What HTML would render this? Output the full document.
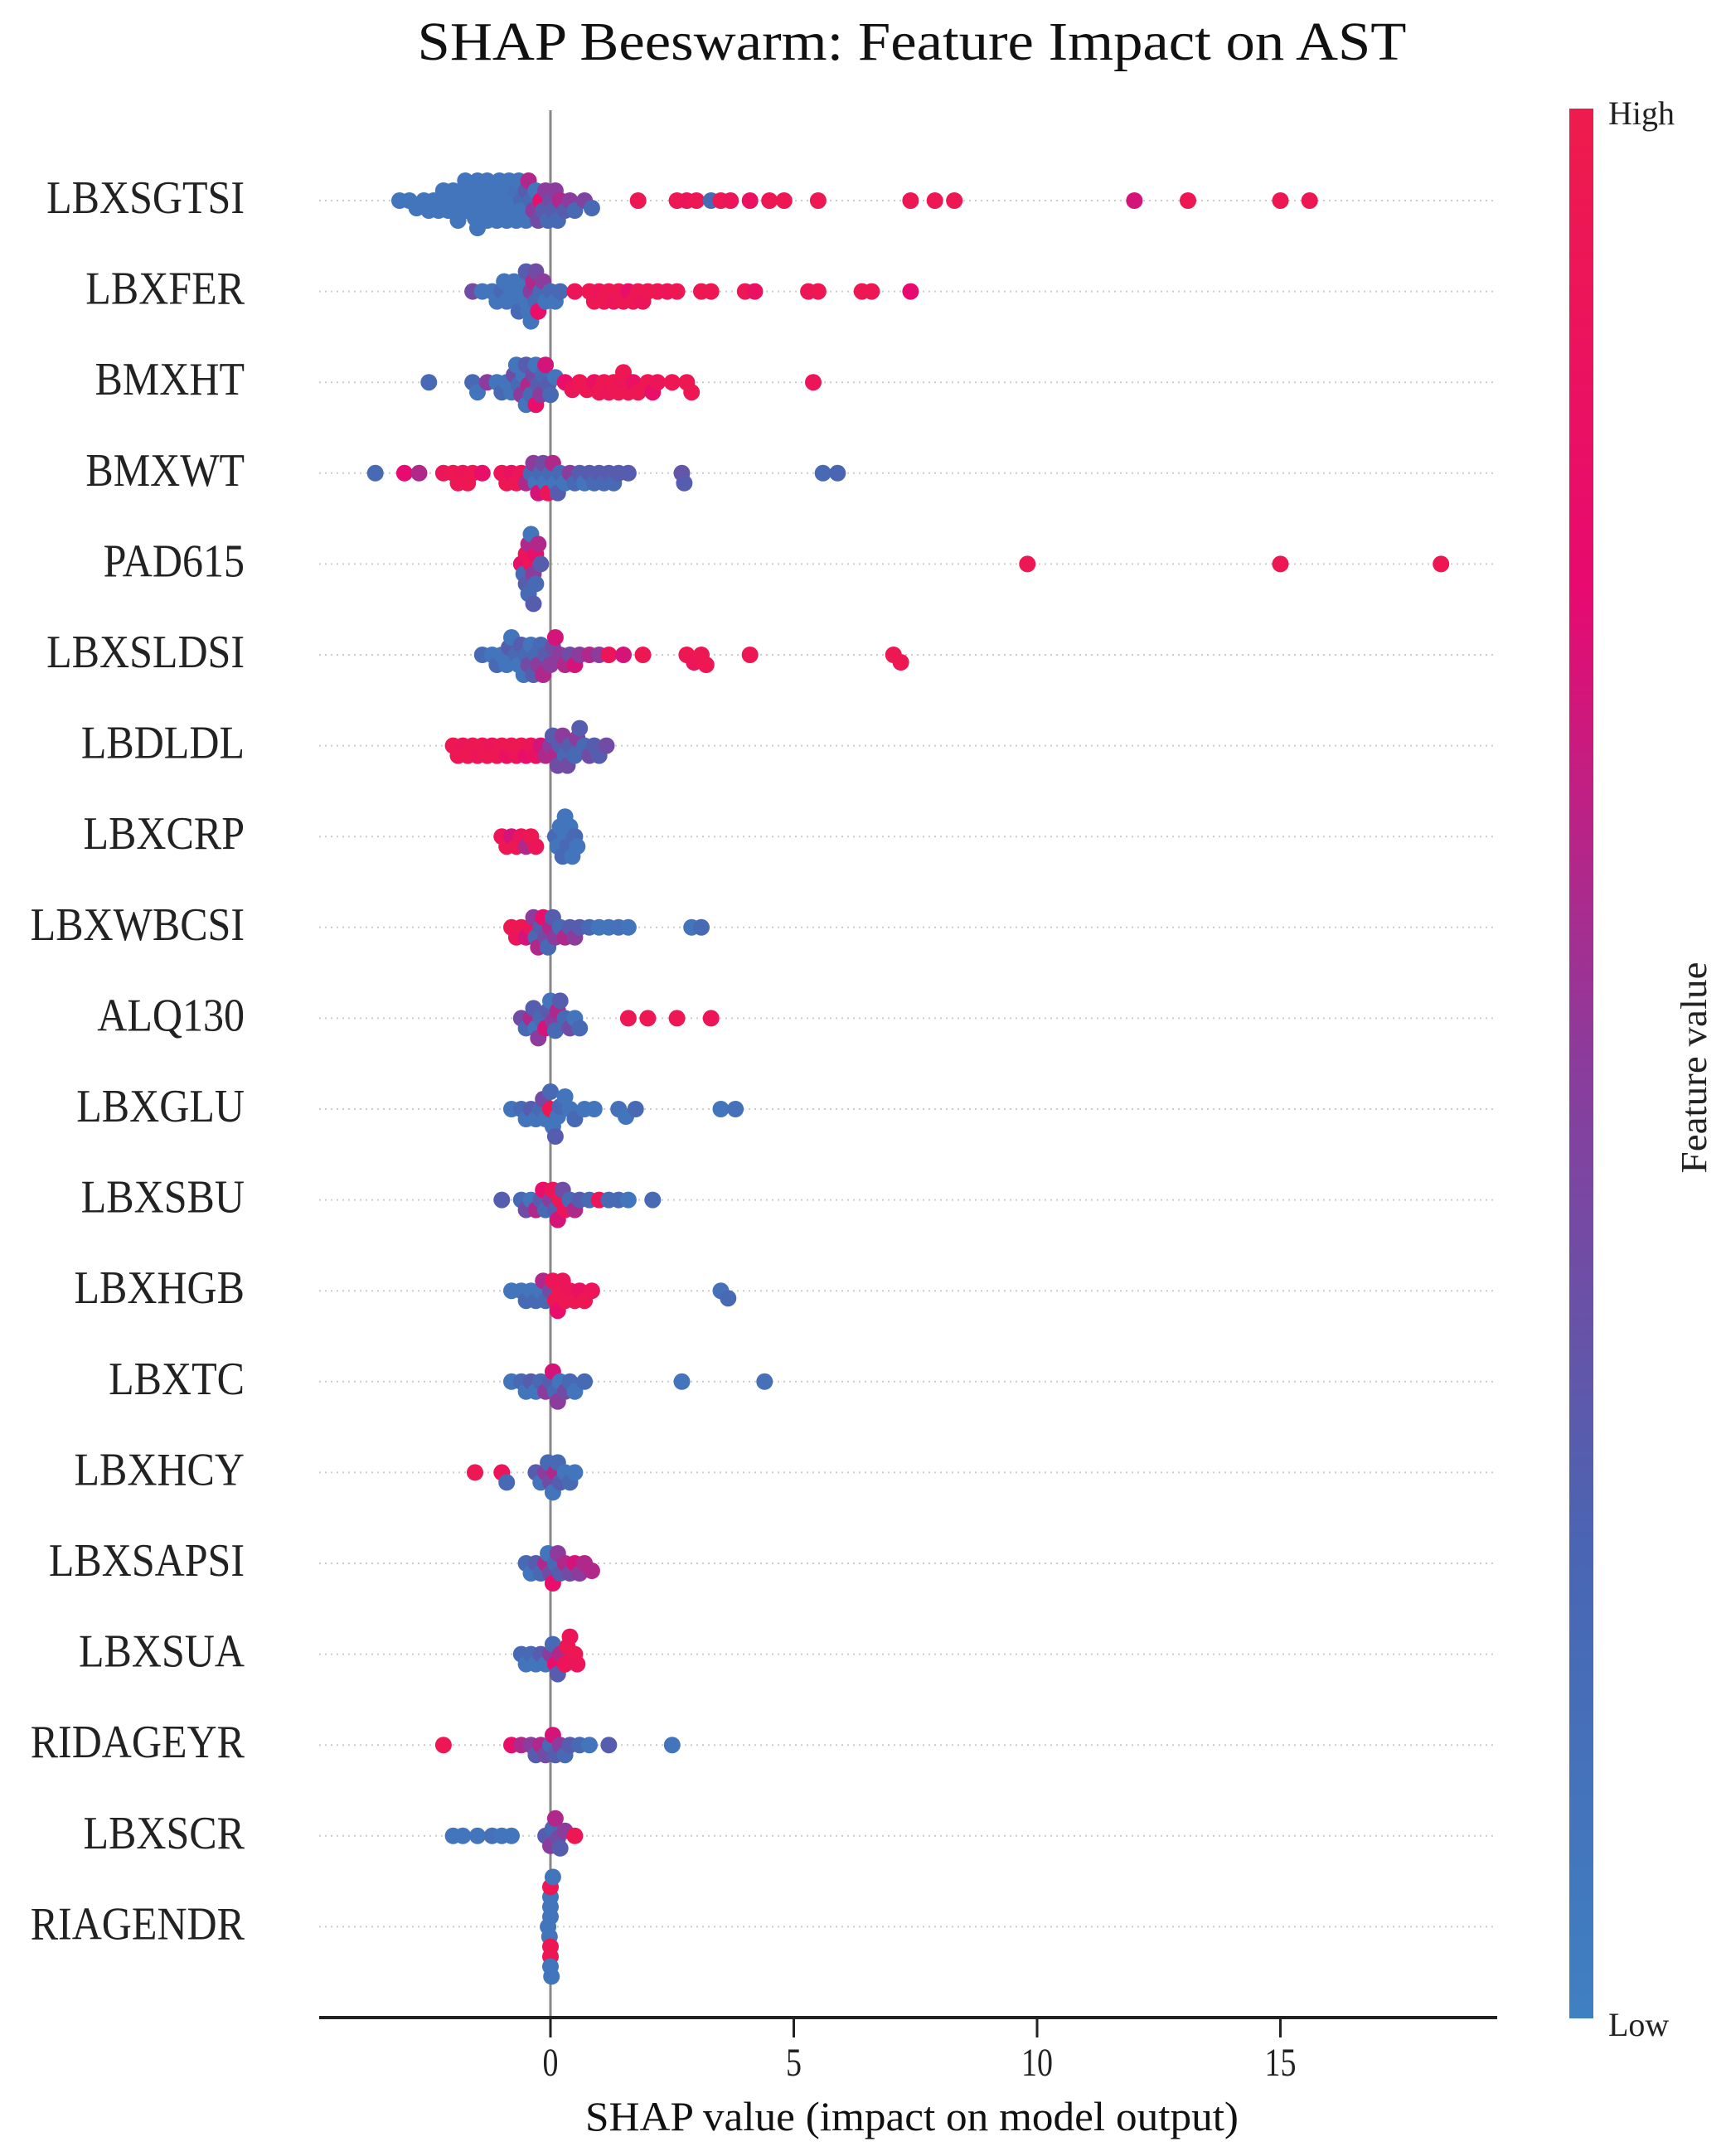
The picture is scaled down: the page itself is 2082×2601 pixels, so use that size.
<!DOCTYPE html>
<html><head><meta charset="utf-8"><style>
html,body{margin:0;padding:0;background:#fff}
svg{display:block;font-family:"Liberation Serif",serif}
</style></head><body>
<svg id="chart" width="2082" height="2601" viewBox="0 0 2082 2601">
<defs><linearGradient id="cbar" x1="0" y1="1" x2="0" y2="0">
<stop offset="0" stop-color="#3f80c2"/><stop offset="0.25" stop-color="#4a65b2"/><stop offset="0.5" stop-color="#8b3c9c"/><stop offset="0.75" stop-color="#e80a70"/><stop offset="1" stop-color="#ee1c4c"/></linearGradient></defs>
<text x="1100" y="72" text-anchor="middle" font-size="66" textLength="1193" lengthAdjust="spacingAndGlyphs" fill="#111">SHAP Beeswarm: Feature Impact on AST</text>
<g id="grid"></g><g id="labels"></g>
<line x1="664" y1="133" x2="664" y2="2434" stroke="#888" stroke-width="3"/>
<g id="dots"></g>
<line x1="385" y1="2434" x2="1806" y2="2434" stroke="#222" stroke-width="4"/>
<g id="ticks"></g>
<text x="1100" y="2570" text-anchor="middle" font-size="50" textLength="788" lengthAdjust="spacingAndGlyphs" fill="#111">SHAP value (impact on model output)</text>
<rect x="1893" y="131" width="29" height="2304" fill="url(#cbar)"/>
<text x="1940" y="150" font-size="40" fill="#222">High</text>
<text x="1940" y="2456" font-size="40" fill="#222">Low</text>
<text transform="translate(2058,1288) rotate(-90)" text-anchor="middle" font-size="44" textLength="255" lengthAdjust="spacingAndGlyphs" fill="#222">Feature value</text>
</svg>
<script>
const features = ["LBXSGTSI","LBXFER","BMXHT","BMXWT","PAD615","LBXSLDSI","LBDLDL","LBXCRP","LBXWBCSI","ALQ130","LBXGLU","LBXSBU","LBXHGB","LBXTC","LBXHCY","LBXSAPSI","LBXSUA","RIDAGEYR","LBXSCR","RIAGENDR"];
const xTicks = [0,5,10,15];
// [shap value, normalized feature value]
const s0 = [[-3.1,.1],[-2.9,.1],[-2.75,.1],[-2.6,.1],[-2.5,.1],[-2.4,.1],[-2.3,.1],[-2.2,.1],[-2.2,.1],[-2.1,.1],[-2.0,.1],[-2.0,.1],[-1.9,.1],[-1.9,.1],[-1.8,.1],[-1.8,.1],[-1.75,.1],[-1.7,.1],[-1.6,.1],[-1.6,.1],[-1.55,.1],[-1.5,.1],[-1.5,.1],[-1.4,.1],[-1.4,.1],[-1.35,.1],[-1.3,.1],[-1.3,.1],[-1.2,.1],[-1.2,.1],[-1.1,.1],[-1.1,.1],[-1.05,.1],[-1.0,.1],[-1.0,.1],[-0.9,.1],[-0.9,.1],[-0.85,.1],[-0.8,.1],[-0.8,.1],[-0.7,.15],[-0.7,.1],[-0.65,.1],[-0.6,.2],[-0.6,.1],[-0.5,.3],[-0.5,.1],[-0.45,.6],[-0.4,.2],[-0.35,.5],[-0.3,.1],[-0.25,.4],[-0.2,.8],[-0.15,.3],[-0.1,.5],[-0.05,.2],[0.0,.4],[0.05,.3],[0.1,.5],[0.15,.2],[0.2,.6],[0.3,.3],[0.4,.5],[0.5,.2],[0.7,.45],[0.85,.2],[1.8,.95],[2.6,.95],[2.8,.9],[3.0,.95],[3.3,.2],[3.5,.95],[3.7,.9],[4.1,.85],[4.5,.95],[4.8,.95],[5.5,.95],[7.4,.95],[7.9,.95],[8.3,.95],[12.0,.7],[13.1,.95],[15.0,.95],[15.6,.95]];
const s1 = [[-1.6,.4],[-1.4,.1],[-1.2,.1],[-1.1,.1],[-1.0,.2],[-0.95,.1],[-0.9,.1],[-0.8,.1],[-0.75,.1],[-0.7,.1],[-0.65,.2],[-0.6,.1],[-0.55,.1],[-0.5,.1],[-0.5,.3],[-0.45,.1],[-0.4,.5],[-0.4,.1],[-0.35,.6],[-0.3,.2],[-0.3,.4],[-0.25,.8],[-0.2,.2],[-0.15,.5],[-0.1,.1],[0.0,.2],[0.1,.1],[0.2,.2],[0.5,.9],[0.8,.95],[0.9,.95],[1.0,.9],[1.1,.95],[1.2,.95],[1.3,.9],[1.4,.95],[1.5,.95],[1.6,.8],[1.7,.95],[1.8,.95],[1.9,.9],[2.0,.95],[2.2,.95],[2.4,.9],[2.6,.95],[3.1,.95],[3.3,.95],[4.0,.95],[4.2,.85],[5.3,.9],[5.5,.95],[6.4,.95],[6.6,.95],[7.4,.75]];
const s2 = [[-2.5,.2],[-1.6,.2],[-1.5,.1],[-1.3,.5],[-1.1,.1],[-1.0,.2],[-0.9,.1],[-0.8,.1],[-0.75,.4],[-0.7,.1],[-0.65,.2],[-0.6,.5],[-0.55,.1],[-0.5,.3],[-0.5,.1],[-0.45,.6],[-0.4,.2],[-0.35,.4],[-0.3,.1],[-0.3,.8],[-0.25,.3],[-0.2,.5],[-0.15,.2],[-0.1,.7],[-0.05,.3],[0.0,.2],[0.1,.1],[0.3,.8],[0.45,.9],[0.6,.95],[0.75,.95],[0.9,.85],[1.0,.95],[1.1,.95],[1.2,.9],[1.3,.95],[1.4,.95],[1.5,.9],[1.5,.95],[1.6,.95],[1.7,.85],[1.8,.95],[2.0,.95],[2.1,.8],[2.2,.9],[2.5,.95],[2.8,.95],[2.9,.95],[5.4,.9]];
const s3 = [[-3.6,.2],[-3.0,.75],[-2.7,.6],[-2.2,.9],[-2.0,.95],[-1.9,.95],[-1.8,.9],[-1.7,.95],[-1.6,.95],[-1.4,.8],[-1.0,.9],[-0.9,.95],[-0.8,.85],[-0.7,.95],[-0.6,.9],[-0.5,.6],[-0.4,.2],[-0.35,.5],[-0.3,.1],[-0.25,.7],[-0.2,.2],[-0.15,.4],[-0.1,.1],[-0.05,.9],[0.0,.2],[0.05,.6],[0.1,.1],[0.15,.3],[0.2,.2],[0.3,.1],[0.4,.5],[0.5,.2],[0.6,.3],[0.7,.1],[0.8,.3],[0.9,.2],[1.0,.3],[1.1,.2],[1.2,.3],[1.3,.2],[1.4,.3],[1.6,.3],[2.7,.35],[2.75,.3],[5.6,.2],[5.9,.25]];
const s4 = [[-0.6,.8],[-0.55,.2],[-0.5,.9],[-0.5,.3],[-0.45,.6],[-0.45,.2],[-0.4,.9],[-0.4,.1],[-0.35,.5],[-0.35,.3],[-0.3,.8],[-0.3,.2],[-0.25,.6],[-0.2,.3],[9.8,.95],[15.0,.95],[18.3,.95]];
const s5 = [[-1.4,.2],[-1.2,.1],[-1.1,.2],[-1.0,.1],[-0.9,.1],[-0.85,.3],[-0.8,.1],[-0.7,.2],[-0.65,.1],[-0.6,.3],[-0.55,.1],[-0.5,.2],[-0.45,.4],[-0.4,.1],[-0.35,.3],[-0.3,.2],[-0.25,.5],[-0.2,.2],[-0.15,.6],[-0.1,.3],[0.0,.5],[0.05,.4],[0.1,.7],[0.2,.5],[0.3,.6],[0.4,.4],[0.5,.7],[0.6,.5],[0.8,.6],[1.0,.5],[1.2,.9],[1.5,.7],[1.9,.95],[2.8,.95],[2.95,.9],[3.1,.95],[3.2,.95],[4.1,.95],[7.05,.95],[7.2,.95]];
const s6 = [[-2.0,.95],[-1.9,.95],[-1.8,.9],[-1.7,.95],[-1.6,.95],[-1.5,.9],[-1.4,.95],[-1.3,.95],[-1.2,.9],[-1.1,.95],[-1.0,.95],[-0.9,.85],[-0.8,.95],[-0.7,.9],[-0.6,.95],[-0.5,.8],[-0.4,.9],[-0.3,.85],[-0.2,.7],[-0.1,.6],[0.0,.5],[0.05,.3],[0.1,.6],[0.15,.4],[0.2,.3],[0.25,.5],[0.3,.2],[0.35,.4],[0.4,.3],[0.5,.2],[0.55,.5],[0.6,.3],[0.7,.2],[0.8,.4],[0.9,.3],[1.0,.3],[1.15,.4]];
const s7 = [[-1.0,.9],[-0.9,.95],[-0.8,.7],[-0.7,.95],[-0.6,.9],[-0.5,.6],[-0.4,.95],[-0.3,.9],[0.1,.2],[0.15,.1],[0.2,.1],[0.25,.2],[0.3,.1],[0.3,.1],[0.35,.2],[0.4,.1],[0.45,.1],[0.5,.2],[0.55,.1]];
const s8 = [[-0.8,.95],[-0.7,.9],[-0.6,.95],[-0.5,.7],[-0.4,.9],[-0.35,.5],[-0.3,.2],[-0.25,.6],[-0.2,.3],[-0.15,.8],[-0.1,.4],[-0.05,.2],[0.0,.6],[0.05,.3],[0.1,.5],[0.2,.2],[0.3,.6],[0.4,.3],[0.5,.5],[0.6,.3],[0.8,.2],[1.0,.1],[1.2,.1],[1.4,.15],[1.6,.1],[2.9,.1],[3.1,.2]];
const s9 = [[-0.6,.4],[-0.5,.2],[-0.4,.6],[-0.35,.3],[-0.3,.1],[-0.25,.5],[-0.2,.2],[-0.1,.7],[-0.05,.3],[0.0,.1],[0.05,.5],[0.1,.2],[0.15,.6],[0.2,.3],[0.3,.2],[0.4,.4],[0.5,.1],[0.6,.2],[1.6,.95],[2.0,.95],[2.6,.95],[3.3,.9]];
const s10 = [[-0.8,.1],[-0.6,.2],[-0.5,.1],[-0.4,.3],[-0.3,.1],[-0.2,.2],[-0.15,.4],[-0.1,.1],[0.0,.95],[0.0,.2],[0.05,.1],[0.1,.3],[0.15,.1],[0.2,.2],[0.3,.1],[0.4,.1],[0.5,.2],[0.7,.1],[0.9,.1],[1.4,.15],[1.55,.1],[1.75,.2],[3.5,.1],[3.8,.15]];
const s11 = [[-1.0,.3],[-0.6,.2],[-0.5,.4],[-0.4,.1],[-0.3,.6],[-0.2,.3],[-0.15,.8],[-0.1,.2],[0.0,.5],[0.05,.9],[0.1,.3],[0.15,.7],[0.2,.95],[0.25,.4],[0.3,.9],[0.4,.2],[0.5,.6],[0.6,.3],[0.8,.2],[1.0,.9],[1.2,.2],[1.4,.2],[1.6,.1],[2.1,.2]];
const s12 = [[-0.8,.1],[-0.6,.1],[-0.5,.2],[-0.4,.1],[-0.3,.2],[-0.2,.1],[-0.15,.6],[-0.1,.2],[0.0,.4],[0.05,.9],[0.1,.95],[0.15,.8],[0.2,.95],[0.25,.9],[0.3,.95],[0.4,.9],[0.5,.95],[0.6,.85],[0.7,.95],[0.85,.9],[3.5,.15],[3.65,.2]];
const s13 = [[-0.8,.1],[-0.6,.2],[-0.5,.1],[-0.4,.3],[-0.3,.1],[-0.2,.2],[-0.1,.5],[0.0,.3],[0.05,.7],[0.1,.2],[0.15,.5],[0.2,.1],[0.3,.4],[0.4,.2],[0.5,.1],[0.7,.2],[2.7,.1],[4.4,.15]];
const s14 = [[-1.55,.95],[-1.0,.9],[-0.9,.2],[-0.3,.3],[-0.2,.1],[-0.1,.5],[-0.05,.2],[0.0,.4],[0.05,.1],[0.1,.6],[0.15,.2],[0.2,.3],[0.3,.1],[0.4,.2],[0.5,.1]];
const s15 = [[-0.5,.2],[-0.4,.1],[-0.3,.3],[-0.2,.2],[-0.1,.6],[-0.05,.1],[0.0,.4],[0.05,.8],[0.1,.2],[0.15,.5],[0.2,.3],[0.3,.6],[0.4,.4],[0.5,.7],[0.6,.5],[0.7,.6],[0.85,.6]];
const s16 = [[-0.6,.2],[-0.5,.1],[-0.4,.2],[-0.3,.1],[-0.2,.3],[-0.1,.1],[0.0,.5],[0.05,.2],[0.1,.8],[0.15,.3],[0.2,.6],[0.3,.9],[0.35,.95],[0.4,.9],[0.5,.95],[0.55,.9]];
const s17 = [[-2.2,.95],[-0.8,.8],[-0.6,.6],[-0.4,.5],[-0.3,.3],[-0.2,.6],[-0.1,.4],[0.0,.2],[0.05,.7],[0.1,.3],[0.2,.5],[0.3,.2],[0.4,.3],[0.6,.2],[0.8,.1],[1.2,.3],[2.5,.1]];
const s18 = [[-2.0,.1],[-1.8,.1],[-1.5,.1],[-1.2,.15],[-1.0,.1],[-0.8,.1],[-0.1,.3],[0.0,.5],[0.05,.2],[0.1,.6],[0.15,.4],[0.2,.3],[0.3,.5],[0.5,.95]];
const s19 = [[-0.05,.1],[0.0,.1],[0.0,.95],[0.0,.1],[0.0,.95],[0.0,.1],[0.05,.1],[0.0,.1],[0.0,.95],[-0.02,.1],[0.02,.1]];
const series = [s0,s1,s2,s3,s4,s5,s6,s7,s8,s9,s10,s11,s12,s13,s14,s15,s16,s17,s18,s19];

const NS="http://www.w3.org/2000/svg";
const X0=664, PXU=58.7, Y0=242, DY=109.6, R=10;
const xScale=v=>X0+v*PXU;
const yRow=i=>Y0+i*DY;
function mk(t,a){const e=document.createElementNS(NS,t);for(const k in a)e.setAttribute(k,a[k]);return e;}
function color(c){
  const st=[[0,[63,128,194]],[0.25,[74,101,178]],[0.5,[139,60,156]],[0.75,[232,10,112]],[1,[238,28,76]]];
  for(let i=0;i<st.length-1;i++){if(c<=st[i+1][0]){const t=(c-st[i][0])/(st[i+1][0]-st[i][0]);const a=st[i][1],b=st[i+1][1];return `rgb(${a.map((v,j)=>Math.round(v+(b[j]-v)*t)).join(',')})`;}}
  return 'rgb(238,28,76)';
}
const grid=document.getElementById('grid'),labels=document.getElementById('labels'),dots=document.getElementById('dots'),ticks=document.getElementById('ticks');
features.forEach((f,i)=>{
  const y=yRow(i);
  const g=mk('line',{x1:385,x2:1806,y1:y,y2:y,stroke:'#ccc','stroke-width':2,'stroke-dasharray':'2,5'});
  
  
  grid.appendChild(g);
  const t=mk('text',{transform:`translate(295,${y+15}) scale(1,1.12)`,'text-anchor':'end','font-size':50,fill:'#222'});
  t.textContent=f;
  
  
  labels.appendChild(t);
  const pts=series[i].map(p=>({x:xScale(p[0]),c:p[1]})).sort((a,b)=>a.x-b.x);
  const placed=[];const D=R*2*0.55;
  pts.forEach(p=>{
    let off=0;
    for(let k=0;k<200;k++){
      const cand=(k%2?1:-1)*Math.ceil(k/2)*3;
      if(placed.every(q=>Math.hypot(q.x-p.x,q.o-cand)>=D)){off=cand;break;}
    }
    placed.push({x:p.x,o:off});
    const d=mk('ellipse',{cx:p.x.toFixed(1),cy:(y+off).toFixed(1),rx:R,ry:R,fill:color(p.c)});
    
    
    dots.appendChild(d);
  });
});
xTicks.forEach(v=>{
  const x=xScale(v);
  const l=mk('line',{x1:x,x2:x,y1:2434,y2:2458,stroke:'#222','stroke-width':3});
  
  
  ticks.appendChild(l);
  const t=mk('text',{transform:`translate(${x},${2504}) scale(1,1.25)`,'text-anchor':'middle','font-size':38,fill:'#222'});
  t.textContent=v;
  
  
  ticks.appendChild(t);
});
</script>
</body></html>
